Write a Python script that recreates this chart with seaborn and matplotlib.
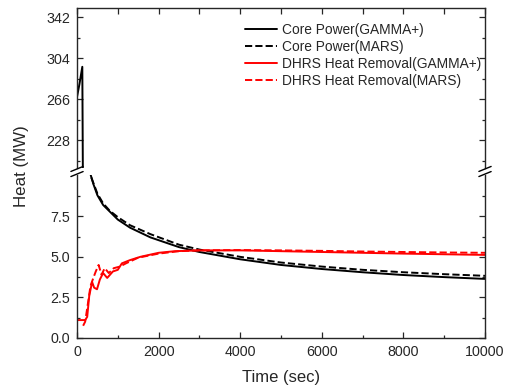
import matplotlib
matplotlib.use("Agg")
import matplotlib.pyplot as plt
from matplotlib.ticker import MultipleLocator
import numpy as np
import pandas as pd
import seaborn as sns

# values
core_gamma_t = [0, 60, 130, 150, 330, 400, 500, 640, 800, 1000, 1300, 1800, 2500,
                3000, 4000, 5000, 6000, 7000, 8000, 9000, 10000]
core_gamma = [268, 280, 296, 150, 10.1, 9.5, 8.8, 8.2, 7.8, 7.3, 6.8, 6.2, 5.6,
              5.3, 4.85, 4.5, 4.25, 4.05, 3.88, 3.75, 3.64]

core_mars_t = [350, 500, 640, 800, 1000, 1300, 1800, 2500, 3000, 4000, 5000, 6000,
               7000, 8000, 9000, 10000]
core_mars = [9.9, 8.9, 8.3, 7.85, 7.45, 6.95, 6.4, 5.75, 5.45, 5.0, 4.65, 4.4,
             4.2, 4.05, 3.93, 3.83]

dhrs_gamma_t = [0, 200, 250, 300, 370, 420, 490, 560, 640, 740, 880, 1000, 1100,
                1300, 1550, 2000, 2400, 3000, 4000, 5000, 6000, 7000, 8000, 9000, 10000]
dhrs_gamma = [1.1, 1.1, 1.3, 2.6, 3.45, 3.1, 3.0, 3.6, 4.0, 3.7, 4.1, 4.2, 4.6,
              4.8, 5.0, 5.25, 5.35, 5.4, 5.4, 5.35, 5.3, 5.25, 5.2, 5.16, 5.12]

dhrs_mars_t = [150, 200, 260, 330, 400, 460, 530, 600, 680, 780, 900, 1050, 1200,
               1500, 2000, 2500, 3000, 4000, 5000, 6000, 7000, 8000, 9000, 10000]
dhrs_mars = [0.75, 1.0, 2.0, 3.2, 3.7, 4.1, 4.5, 3.9, 4.3, 4.0, 4.3, 4.4, 4.6,
             4.95, 5.2, 5.35, 5.4, 5.42, 5.4, 5.37, 5.33, 5.3, 5.27, 5.25]

upper_ticks = [228, 266, 304, 342]
lower_ticks = [0, 2.5, 5.0, 7.5]

series = [
    ("Core Power(GAMMA+)", core_gamma_t, core_gamma, "black", "-"),
    ("Core Power(MARS)", core_mars_t, core_mars, "black", "--"),
    ("DHRS Heat Removal(GAMMA+)", dhrs_gamma_t, dhrs_gamma, "red", "-"),
    ("DHRS Heat Removal(MARS)", dhrs_mars_t, dhrs_mars, "red", "--"),
]

sns.set_style("ticks")
plt.rcParams['font.family'] = ['Liberation Sans', 'DejaVu Sans']

L, W = 0.151, 0.800
fig = plt.figure(figsize=(5.1, 3.92), dpi=100)
ax_top = fig.add_axes([L, 0.571, W, 0.408])
ax_bot = fig.add_axes([L, 0.138, W, 0.416])

for ax in (ax_top, ax_bot):
    for name, t, v, c, ls in series:
        df = pd.DataFrame({"Time": t, "Heat": v})
        sns.lineplot(data=df, x="Time", y="Heat", ax=ax, color=c, linestyle=ls,
                     linewidth=1.4, label=name, sort=False, estimator=None)
    ax.set_xlim(0, 10000)
    ax.xaxis.set_major_locator(MultipleLocator(2000))
    ax.xaxis.set_minor_locator(MultipleLocator(1000))
    ax.tick_params(which='both', direction='in', top=True, right=True,
                   labelsize=10.3, width=0.9, pad=5)
    ax.tick_params(which='major', length=4)
    ax.tick_params(which='minor', length=2.5)
    ax.set_xlabel("")
    ax.set_ylabel("")
    for s in ax.spines.values():
        s.set_linewidth(1.0)

ax_top.set_ylim(202, 350.3)
ax_top.set_yticks(upper_ticks)
ax_top.set_yticks([209, 247, 285, 323], minor=True)
ax_top.spines['bottom'].set_visible(False)
ax_top.tick_params(which='both', bottom=False, labelbottom=False)
ax_top.tick_params(axis='x', which='minor', length=4)

ax_bot.set_ylim(0, 10.06)
ax_bot.set_yticks(lower_ticks)
ax_bot.set_yticks([1.25, 3.75, 6.25, 8.75], minor=True)
ax_bot.spines['top'].set_visible(False)
ax_bot.tick_params(which='both', top=False)
ax_bot.yaxis.set_major_formatter(plt.FormatStrFormatter('%.1f'))
ax_bot.legend_.remove()

ax_top.legend(loc='upper right', frameon=False, fontsize=9.9, handlelength=2.3,
              handletextpad=0.35, labelspacing=0.22, borderaxespad=0.0,
              borderpad=0.0, bbox_to_anchor=(0.99, 0.91))

# break marks on the y spines
for xb in (L, L + W):
    for yc in (0.556, 0.569):
        fig.add_artist(plt.Line2D([xb - 0.012, xb + 0.012], [yc - 0.0064, yc + 0.0064],
                                  color='black', linewidth=1.0, transform=fig.transFigure))

fig.text(0.043, 0.577, "Heat (MW)", rotation=90, ha='center', va='center', fontsize=12.2)
fig.text(0.551, 0.038, "Time (sec)", ha='center', va='center', fontsize=12)

fig.savefig("out.png", dpi=100)
